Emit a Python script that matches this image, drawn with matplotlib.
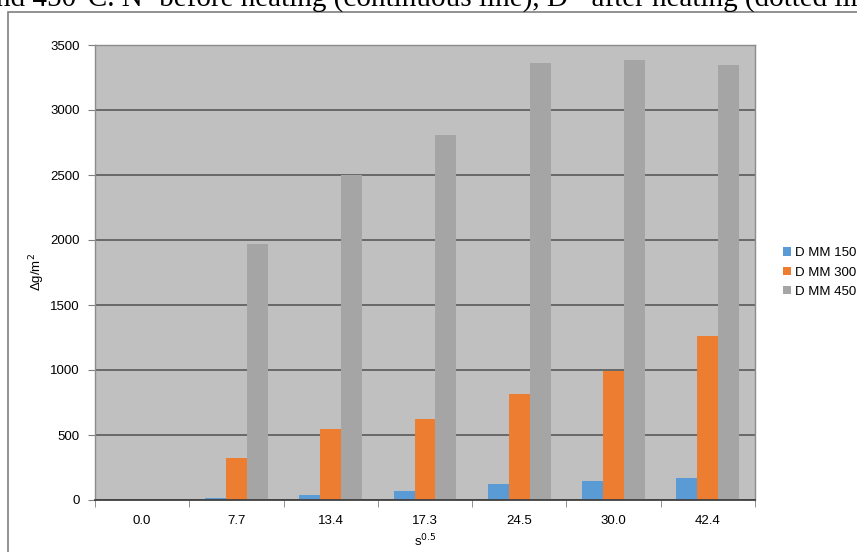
import matplotlib.pyplot as plt
import matplotlib.patches as mpatches
import numpy as np

# data
categories = ['0.0', '7.7', '13.4', '17.3', '24.5', '30.0', '42.4']
mm150 = [0, 18, 42, 73, 123, 146, 173]
mm300 = [0, 320, 546, 622, 815, 990, 1262]
mm450 = [0, 1970, 2500, 2805, 3360, 3382, 3350]
series_names = ['D MM 150', 'D MM 300', 'D MM 450']
colors = ['#5B9BD5', '#ED7D31', '#A5A5A5']

W, H = 857, 552
fig = plt.figure(figsize=(W/100, H/100), dpi=100)
plt.rcParams['font.family'] = ['Liberation Sans', 'DejaVu Sans']

# caption line cut off at the top of the picture (as in the source page)
fig.text(-4/W, 1 - 7/H, 'nd 450\u00b0C. N=before heating (continuous line), D= after heating (dotted line)',
         family=['Liberation Serif', 'DejaVu Serif'], fontsize=21, ha='left', va='baseline', color='black')

# chart frame
fig.patches.append(mpatches.Rectangle((8/W, -0.05), 1.0, 1 - 12/H + 0.05, transform=fig.transFigure,
                                      fill=False, edgecolor='#7f7f7f', linewidth=1.2))

ax = fig.add_axes([95/W, (H-500)/H, 660/W, 455/H])
ax.set_facecolor('#C0C0C0')

x = np.arange(len(categories))
w = 1/4.5
for k, (vals, col, name) in enumerate(zip([mm150, mm300, mm450], colors, series_names)):
    ax.bar(x + (k-1)*w, vals, width=w, color=col, label=name, zorder=3)

ax.set_xlim(-0.5, len(categories)-0.5)
ax.set_ylim(0, 3500)
ax.set_yticks(np.arange(0, 3501, 500))
ax.yaxis.grid(True, color='#595959', linewidth=1.2, zorder=1)
ax.set_axisbelow(True)

ax.set_xticks(x)
ax.set_xticklabels(categories)
ax.set_xticks(np.arange(-0.5, len(categories), 1), minor=True)
ax.tick_params(axis='x', which='major', length=0, pad=11, labelsize=9.5)
ax.tick_params(axis='x', which='minor', length=5, color='#7f7f7f', direction='out')
ax.tick_params(axis='y', length=5, color='#7f7f7f', direction='out', pad=6, labelsize=9.5)

for s in ['top', 'right', 'left']:
    ax.spines[s].set_color('#8c8c8c')
    ax.spines[s].set_linewidth(1)
ax.spines['bottom'].set_color('#404040')
ax.spines['bottom'].set_linewidth(1.3)
ax.spines['bottom'].set_zorder(4)

ax.set_xlabel('s$^{0.5}$', fontsize=9.5, labelpad=4)
ax.set_ylabel('\u0394g/m$^{2}$', fontsize=9.5, labelpad=2)

ax.legend(loc='center left', bbox_to_anchor=(1.025, 0.5), frameon=False, fontsize=9.5,
          handlelength=0.6, handleheight=0.6, handletextpad=0.3, labelspacing=0.55)

plt.savefig('out.png', dpi=100)
print("out.png created")
